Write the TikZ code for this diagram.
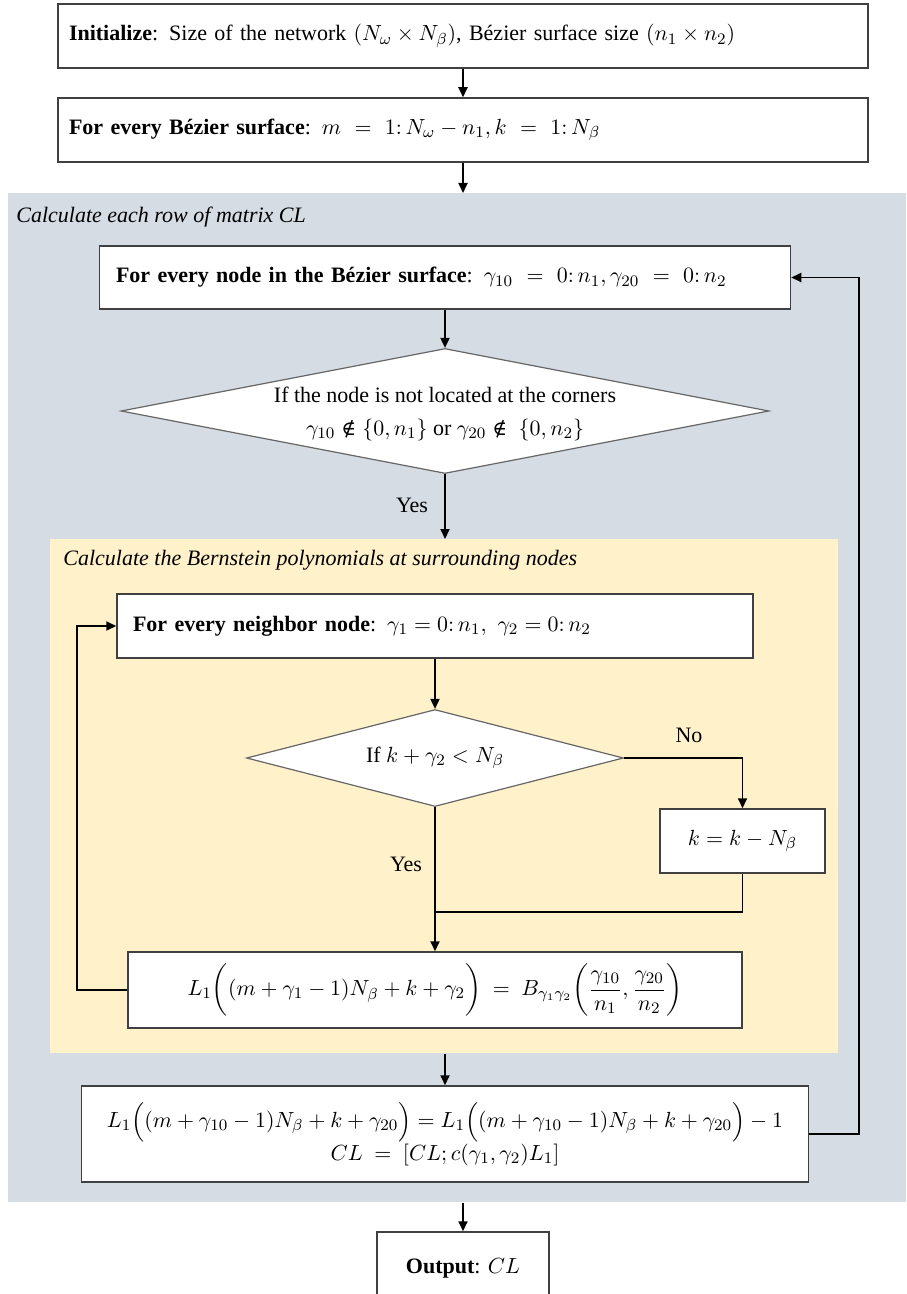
\documentclass[tikz,border=0pt]{standalone}
\usepackage{fontspec}
\setmainfont{Liberation Serif}
\newfontfamily\symfnt{DejaVu Serif}
\usepackage{amsmath}
\usetikzlibrary{arrows.meta,shapes.geometric}
\definecolor{panelgray}{RGB}{214,220,228}
\definecolor{panelyellow}{RGB}{255,241,202}
\definecolor{boxline}{RGB}{64,64,64}
\newcommand{\nnotin}{\mathrel{\text{\symfnt\fontsize{10}{12}\selectfont ∉}}}
\begin{document}
\begin{tikzpicture}[x=1pt,y=-1pt, font=\fontsize{11}{16.5}\selectfont,
  box/.style={draw=boxline, line width=0.75pt, fill=white, inner sep=0pt},
  dia/.style={diamond, draw=boxline!80, line width=0.6pt, fill=white, inner sep=0pt},
  arr/.style={-{Triangle[length=5pt,width=4.5pt]}, line width=0.9pt, black},
  lab/.style={inner sep=0pt}
]
\useasboundingbox (0,0) rectangle (453,647);
\clip (0,0) rectangle (453,647);
% panels
\node[fill=panelgray, minimum width=449pt, minimum height=504.5pt, inner sep=0pt, anchor=north west] (gray) at (4,96.5) {};
\node[fill=panelyellow, minimum width=394pt, minimum height=257pt, inner sep=0pt, anchor=north west] (yellow) at (25,269.5) {};
\node[lab, anchor=west] (graytitle) at (8,108.5) {\itshape Calculate each row of matrix CL};
\node[lab, anchor=west] (yeltitle) at (31.5,280) {\itshape Calculate the Bernstein polynomials at surrounding nodes};
% top boxes
\node[box, minimum width=405pt, minimum height=32pt, text width=394pt, align=left] (init) at (231.5,18)
  {\textbf{Initialize}: Size of the network $(N_\omega\times N_\beta)$, Bézier surface size $(n_1\times n_2)$};
\node[box, minimum width=405pt, minimum height=32pt, text width=394pt, align=left] (surf) at (231.5,65)
  {\textbf{For every Bézier surface}: $m\ =\ 1{:}\,N_\omega-n_1, k\ =\ 1{:}\,N_\beta$};
% gray panel content
\node[box, minimum width=345.5pt, minimum height=31.5pt, text width=329pt, align=left] (node3) at (222.5,138.75)
  {\textbf{For every node in the Bézier surface}: $\gamma_{10}\ =\ 0{:}\,n_1, \gamma_{20}\ =\ 0{:}\,n_2$};
\node[dia, minimum width=324pt, minimum height=62.5pt, aspect=5.184] (cond1) at (222.5,205.5) {};
\node[lab, align=center] (cond1txt) at (222.5,206.75)
  {If the node is not located at the corners\\ $\gamma_{10}\nnotin\{0,n_1\}$ or $\gamma_{20}\nnotin\ \{0,n_2\}$};
\node[lab] (yes1) at (206,252.5) {Yes};
% yellow panel content
\node[box, minimum width=318pt, minimum height=32pt, text width=302pt, align=left] (nb) at (217.5,313)
  {\textbf{For every neighbor node}: $\gamma_1=0{:}\,n_1,\ \gamma_2=0{:}\,n_2$};
\node[dia, minimum width=188.5pt, minimum height=48.5pt, aspect=3.887] (cond2) at (217.5,379)
  {If $k+\gamma_2<N_\beta$};
\node[lab] (no) at (344.5,367.5) {No};
\node[box, minimum width=82.5pt, minimum height=32pt] (kupd) at (371.25,420.5) {$k = k - N_\beta$};
\node[lab] (yes2) at (203,432) {Yes};
\node[box, minimum width=307pt, minimum height=38pt] (bern) at (217.5,495)
  {$L_1\biggl((m+\gamma_1-1)N_\beta+k+\gamma_2\biggr)\ =\ B_{\gamma_1\gamma_2}\!\left(\dfrac{\gamma_{10}}{n_1},\dfrac{\gamma_{20}}{n_2}\right)$};
% lower gray content
\node[box, minimum width=363.5pt, minimum height=48pt, align=center] (upd) at (222.5,567)
  {$L_1\Bigl((m+\gamma_{10}-1)N_\beta+k+\gamma_{20}\Bigr)=L_1\Bigl((m+\gamma_{10}-1)N_\beta+k+\gamma_{20}\Bigr)-1$\\
   $CL\ =\ [CL;c(\gamma_1,\gamma_2)L_1]$};
\node[box, minimum width=86pt, minimum height=36pt] (out) at (231.5,634) {\textbf{Output}: $CL$};
% connectors
\draw[arr] (init) -- (surf);
\draw[arr] (surf.south) -- (surf.south |- gray.north);
\draw[arr] (node3) -- (cond1);
\draw[arr] (cond1.south) -- (cond1.south |- yellow.north);
\draw[arr] (nb) -- (cond2);
\draw[arr] (cond2.east) -| (kupd.north);
\coordinate (merge) at (217.5,456);
\draw[line width=0.9pt] (kupd.south) |- (merge);
\draw[arr] (cond2.south) -- (bern.north);
\coordinate (loopx) at (38.5,495);
\draw[arr] (bern.west) -- (loopx) |- (nb.west);
\draw[arr] (yellow.south -| upd.north) -- (upd.north);
\coordinate (fb) at (429.5,567);
\draw[arr] (upd.east) -- (fb) |- (node3.east);
\draw[arr] (gray.south -| out.north) -- (out.north);
\end{tikzpicture}
\end{document}
